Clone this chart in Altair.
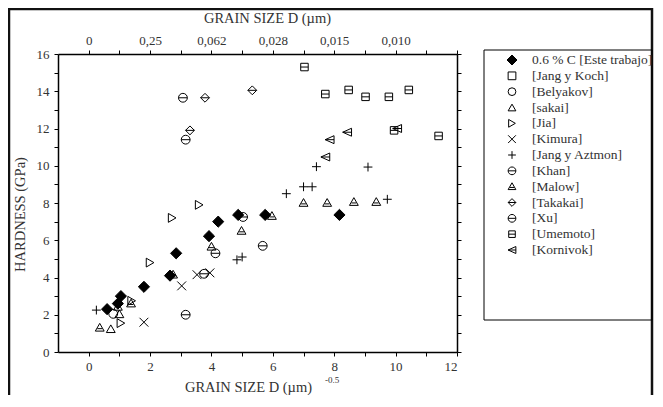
import json
import altair as alt
import pandas as pd

FONT = "Liberation Serif, Times New Roman, DejaVu Serif, serif"

# ---------------- data ----------------
series_names = ["0.6 % C [Este trabajo]", "[Jang y Koch]", "[Belyakov]", "[sakai]",
                "[Jia]", "[Kimura]", "[Jang y Aztmon]", "[Khan]", "[Malow]",
                "[Takakai]", "[Xu]", "[Umemoto]", "[Kornivok]"]

este_x = [0.6, 0.95, 1.05, 1.8, 2.65, 2.85, 3.92, 4.22, 4.87, 5.75, 8.17]
este_y = [2.3, 2.6, 3.0, 3.5, 4.1, 5.3, 6.22, 7.0, 7.36, 7.36, 7.36]
koch_x = []
koch_y = []
belyakov_x = [0.8]
belyakov_y = [2.05]
sakai_x = [0.72, 1.0, 0.95]
sakai_y = [1.25, 2.05, 2.45]
jia_x = [1.05, 1.4, 2.0, 2.72, 3.6]
jia_y = [1.55, 2.75, 4.8, 7.2, 7.9]
kimura_x = [1.8, 3.03, 3.53, 3.95]
kimura_y = [1.6, 3.55, 4.15, 4.25]
aztmon_x = [0.25, 4.83, 5.0, 6.44, 7.0, 7.28, 7.42, 9.1, 9.73]
aztmon_y = [2.25, 4.95, 5.1, 8.5, 8.87, 8.87, 9.95, 9.93, 8.2]
khan_x = [3.16, 3.76, 4.13, 5.03, 5.67]
khan_y = [2.0, 4.2, 5.3, 7.25, 5.7]
malow_x = [0.36, 1.38, 2.75, 4.0, 4.98, 5.97, 7.0, 7.77, 8.64, 9.37]
malow_y = [1.3, 2.6, 4.15, 5.65, 6.5, 7.3, 8.0, 8.0, 8.05, 8.05]
takakai_x = [3.3, 3.79, 5.33]
takakai_y = [11.9, 13.65, 14.05]
xu_x = [3.16, 3.07]
xu_y = [11.4, 13.65]
umemoto_x = [7.03, 7.71, 8.47, 9.02, 9.78, 10.43, 9.95, 11.4]
umemoto_y = [15.3, 13.85, 14.07, 13.7, 13.7, 14.07, 11.9, 11.6]
kornivok_x = [7.71, 7.85, 8.42, 10.05]
kornivok_y = [10.47, 11.4, 11.8, 12.0]

x_ticks = list(range(0, 13))
y_ticks = list(range(0, 17))
top_tick_labels = ["0", "0,25", "0,062", "0,028", "0,015", "0,010"]

all_x = [este_x, koch_x, belyakov_x, sakai_x, jia_x, kimura_x, aztmon_x,
         khan_x, malow_x, takakai_x, xu_x, umemoto_x, kornivok_x]
all_y = [este_y, koch_y, belyakov_y, sakai_y, jia_y, kimura_y, aztmon_y,
         khan_y, malow_y, takakai_y, xu_y, umemoto_y, kornivok_y]

rows = []
for name, xs, ys in zip(series_names, all_x, all_y):
    for xv, yv in zip(xs, ys):
        rows.append({"series": name, "x": xv, "y": yv})
df = pd.DataFrame(rows)
df["z"] = (df["series"] == series_names[0]).astype(int)

# ---------------- layout ----------------
W, H = 399, 298
X_DOM = [-1, 12]
Y_DOM = [0, 16]


def px_to_x(p):
    return X_DOM[0] + p * (X_DOM[1] - X_DOM[0]) / W


def px_to_y(p):
    return Y_DOM[1] - p * (Y_DOM[1] - Y_DOM[0]) / H


# ---------------- styles ----------------
CIRC = "M-1,0A1,1,0,1,0,1,0A1,1,0,1,0,-1,0Z"
shapes = [
    "diamond",
    "square",
    "circle",
    "triangle-up",
    "triangle-right",
    "M-1,-1L1,1M-1,1L1,-1",
    "M-1,0L1,0M0,-1L0,1",
    CIRC + "M-1,0L1,0",
    "M0,-1L1,0.75L-1,0.75ZM-0.55,0.2L0.55,0.2",
    "M0,-1L1,0L0,1L-1,0ZM-1,0L1,0",
    CIRC + "M-1,0L1,0",
    "M-0.85,-0.85L0.85,-0.85L0.85,0.85L-0.85,0.85ZM-0.85,0L0.85,0",
    "M-1,0L1,-0.9L1,0.9ZM-1,0L1,0",
]
fills = ["black"] + ["transparent"] * (len(series_names) - 1)

shape_enc = alt.Shape("series:N", scale=alt.Scale(domain=series_names, range=shapes), legend=None)
fill_enc = alt.Fill("series:N", scale=alt.Scale(domain=series_names, range=fills), legend=None)
size_enc = alt.condition(alt.datum.series == series_names[0], alt.value(125), alt.value(78))

x_scale = alt.Scale(domain=X_DOM, nice=False, zero=False)
y_scale = alt.Scale(domain=Y_DOM, nice=False, zero=False)

axis_common = dict(grid=False, domainColor="black", domainWidth=1.5, tickColor="black",
                   tickWidth=1, tickSize=4, labelColor="#333", titleColor="#333",
                   labelFont=FONT, titleFont=FONT, labelFontSize=13, titleFontSize=14.5,
                   titleFontWeight="normal")

bottom_axis = alt.Axis(orient="bottom", values=x_ticks, labelPadding=4,
                       labelExpr="datum.value % 2 == 0 ? datum.label : ''",
                       title="GRAIN SIZE D (µm)", titleX=190, titleY=39,
                       titleAlign="center", titleBaseline="alphabetic", **axis_common)
left_axis = alt.Axis(orient="left", values=y_ticks, labelPadding=5,
                     labelExpr="datum.value % 2 == 0 ? datum.label : ''",
                     title="HARDNESS (GPa)", titleX=-34, titleY=160, titleAngle=270,
                     titleAlign="center", titleBaseline="alphabetic", **axis_common)
top_expr = ("datum.value % 2 == 0 && datum.value <= 10 ? "
            + json.dumps(top_tick_labels) + "[datum.value / 2] : ''")
top_axis = alt.Axis(orient="top", values=x_ticks, labelPadding=3, labelExpr=top_expr,
                    title="GRAIN SIZE D (µm)", titleX=209, titleY=-32,
                    titleAlign="center", titleBaseline="alphabetic", **axis_common)
right_axis = alt.Axis(orient="right", values=y_ticks, labels=False, title=None, **axis_common)

one = pd.DataFrame({"k": [0]})

# outer figure frame (decoration), placed through the same scales
frame = alt.Chart(one).mark_rect(fill="white", fillOpacity=0, stroke="#111", strokeWidth=2.5).encode(
    x=alt.X(datum=px_to_x(-49), type="quantitative", scale=x_scale, axis=None),
    x2=alt.X2(datum=px_to_x(594)),
    y=alt.Y(datum=px_to_y(-45), type="quantitative", scale=y_scale, axis=None),
    y2=alt.Y2(datum=px_to_y(360)),
)

points = alt.Chart(df).mark_point(strokeWidth=1, opacity=1, stroke="black").encode(
    x=alt.X("x:Q", scale=x_scale, axis=bottom_axis),
    y=alt.Y("y:Q", scale=y_scale, axis=left_axis),
    shape=shape_enc, fill=fill_enc, size=size_enc,
    order=alt.Order("z:Q"),
)
ghost = alt.Chart(df).mark_point(opacity=0).encode(
    x=alt.X("x:Q", scale=x_scale, axis=top_axis),
    y=alt.Y("y:Q", scale=y_scale, axis=right_axis),
)

sup = alt.Chart(one).mark_text(text="-0.5", font=FONT, fontSize=9, color="#333",
                               align="left", baseline="middle").encode(
    x=alt.value(267), y=alt.value(326))

# ---------------- legend (boxed, to the right of the plot) ----------------
leg_df = pd.DataFrame({"series": series_names, "order": list(range(len(series_names)))})
leg_y = alt.Y("order:Q", scale=alt.Scale(domain=[0, len(series_names) - 1], range=[6, 196]), axis=None)
leg_box = alt.Chart(one).mark_rect(fill="white", fillOpacity=0, stroke="black", strokeWidth=1).encode(
    x=alt.value(426), x2=alt.value(594), y=alt.value(-4), y2=alt.value(266))
leg_sym = alt.Chart(leg_df).mark_point(strokeWidth=1, opacity=1, stroke="black").encode(
    x=alt.value(454), y=leg_y, shape=shape_enc, fill=fill_enc,
    size=alt.condition(alt.datum.series == series_names[0], alt.value(100), alt.value(60)))
leg_txt = alt.Chart(leg_df).mark_text(align="left", baseline="middle", font=FONT,
                                      fontSize=13.5, color="#333").encode(
    x=alt.value(474), y=leg_y, text="series:N")

chart = alt.layer(frame, ghost, points, sup, leg_box, leg_sym, leg_txt).resolve_axis(
    x="independent", y="independent"
).resolve_scale(y="independent").properties(
    width=W, height=H, view=alt.ViewBackground(stroke=None),
    autosize=alt.AutoSizeParams(type="none"),
    padding={"left": 50, "top": 46, "right": 198, "bottom": 43}
).configure(font=FONT, background="white")

chart.save("out.html", embed_options={"renderer": "svg", "actions": False})
